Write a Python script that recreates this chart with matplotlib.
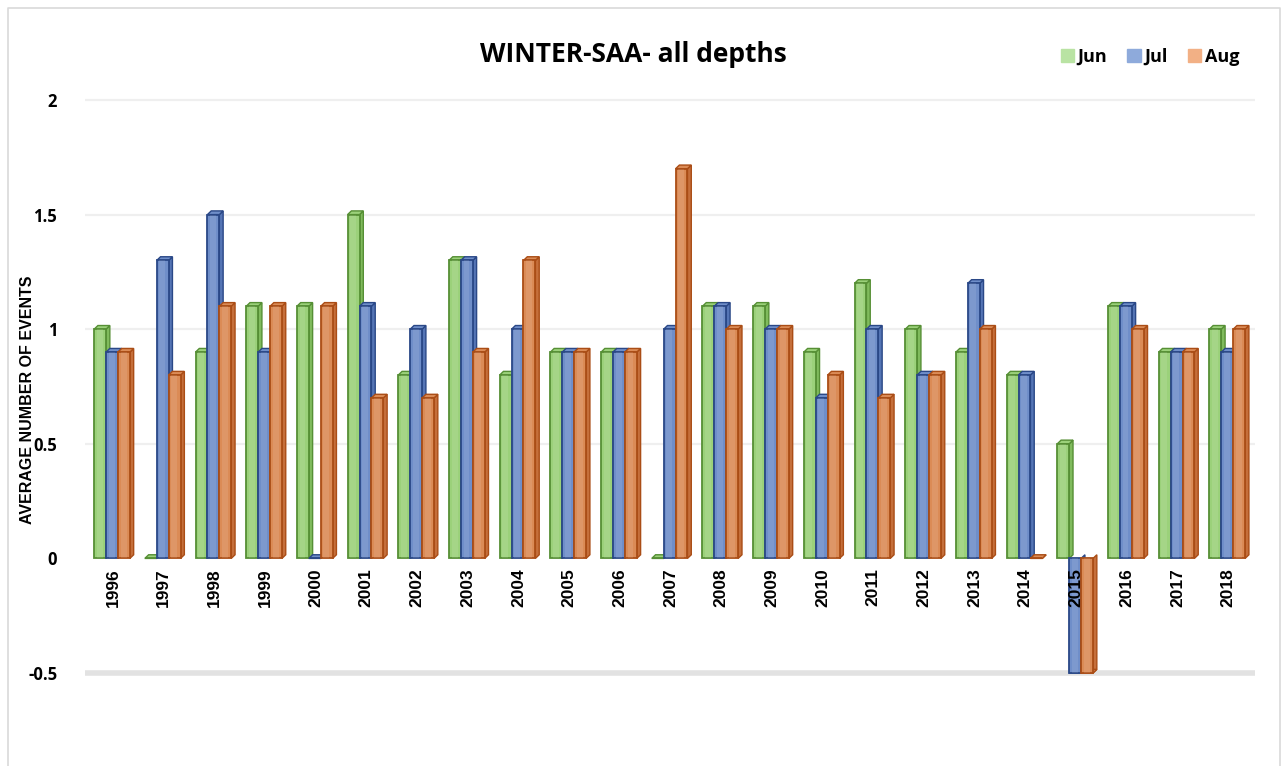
import matplotlib
matplotlib.use("Agg")
import matplotlib.pyplot as plt
from matplotlib.patches import Rectangle, Polygon, Patch
from matplotlib.lines import Line2D

# data
years = ["1996", "1997", "1998", "1999", "2000", "2001", "2002", "2003",
         "2004", "2005", "2006", "2007", "2008", "2009", "2010", "2011",
         "2012", "2013", "2014", "2015", "2016", "2017", "2018"]
jun = [1.0, 0.0, 0.9, 1.1, 1.1, 1.5, 0.8, 1.3, 0.8, 0.9, 0.9, 0.0,
       1.1, 1.1, 0.9, 1.2, 1.0, 0.9, 0.8, 0.5, 1.1, 0.9, 1.0]
jul = [0.9, 1.3, 1.5, 0.9, 0.0, 1.1, 1.0, 1.3, 1.0, 0.9, 0.9, 1.0,
       1.1, 1.0, 0.7, 1.0, 0.8, 1.2, 0.8, -0.5, 1.1, 0.9, 0.9]
aug = [0.9, 0.8, 1.1, 1.1, 1.1, 0.7, 0.7, 0.9, 1.3, 0.9, 0.9, 1.7,
       1.0, 1.0, 0.8, 0.7, 0.8, 1.0, 0.0, -0.5, 1.0, 0.9, 1.0]
yticks = [-0.5, 0, 0.5, 1, 1.5, 2]
ytick_labels = ["-0.5", "0", "0.5", "1", "1.5", "2"]

# (name, values, front, edge, side, legend)
series = [
    ("Jun", jun, "#9bd17a", "#568f35", "#80bb5d", "#b9e3a3"),
    ("Jul", jul, "#6f8ec9", "#2a4887", "#5575b5", "#8eaadb"),
    ("Aug", aug, "#db8b56", "#aa4d16", "#c56f3b", "#f2b085"),
]

W, H = 1285, 766
fig = plt.figure(figsize=(W / 100, H / 100), dpi=100)
ax = fig.add_axes([85 / W, 1 - 684.5 / H, 1170 / W, (684.5 - 88.5) / H])
ax.set_xlim(-0.55, 22.53)
ax.set_ylim(-0.55, 2.05)

# faint 3d-ish gridlines
for yv in yticks:
    if yv == 0:
        continue
    if yv == -0.5:
        ax.axhline(yv, color="#e2e2e2", lw=4, zorder=0)
    else:
        ax.axhline(yv, color="#efefef", lw=1.6, zorder=0)

bw = 0.235     # front face width
dx = 0.075     # depth in x (data units)
dy = 0.016     # depth in y (data units)
offsets = [-0.37, -0.135, 0.10]

for i in range(len(years)):
    for k, (name, vals, fc, ec, sc, _) in enumerate(series):
        v = vals[i]
        x0 = i + offsets[k]
        z = 2 + i * 3 + k
        # side face
        ax.add_patch(Polygon([(x0 + bw, 0), (x0 + bw + dx, dy),
                              (x0 + bw + dx, v + dy), (x0 + bw, v)],
                             closed=True, fc=sc, ec=ec, lw=1.0, zorder=z))
        # top face
        ax.add_patch(Polygon([(x0, v), (x0 + dx, v + dy),
                              (x0 + bw + dx, v + dy), (x0 + bw, v)],
                             closed=True, fc=fc, ec=ec, lw=1.0, zorder=z))
        # front face
        ax.add_patch(Rectangle((x0, min(0, v)), bw, abs(v),
                               fc=fc, ec=ec, lw=1.3, zorder=z))
        # light highlight stripe on the front
        ax.add_patch(Rectangle((x0 + bw * 0.22, min(0, v)), bw * 0.5, abs(v),
                               fc="white", alpha=0.10, lw=0, zorder=z))

for s in ax.spines.values():
    s.set_visible(False)
ax.set_xticks([])
ax.set_yticks(yticks)
ax.set_yticklabels(ytick_labels, fontsize=12, fontweight="bold",
                   family="Open Sans")
ax.tick_params(axis="y", length=0, pad=20)

for i, yr in enumerate(years):
    ax.annotate(yr, xy=(i, 0), xytext=(0, -7), textcoords="offset points",
                rotation=90, ha="center", va="top", fontsize=12.5,
                fontweight="bold", family=["Liberation Sans Narrow", "Liberation Sans"],
                zorder=200)

fig.text(28 / W, 1 - 400 / H, "AVERAGE NUMBER OF EVENTS", rotation=90,
         ha="center", va="center", fontsize=11.5, fontweight="bold",
         family=["Liberation Sans Narrow", "Liberation Sans"])

fig.text(633 / W, 1 - 55 / H, "WINTER-SAA- all depths", ha="center",
         va="center", fontsize=19, fontweight="bold", family="Open Sans")

handles = [Patch(fc=s[5], ec=s[5]) for s in series]
leg = fig.legend(handles, [s[0] for s in series], loc="center",
                 bbox_to_anchor=(1150 / W, 1 - 57 / H), ncol=3, frameon=False,
                 handlelength=0.75, handleheight=0.75, handletextpad=0.2,
                 columnspacing=1.1, prop={"family": "Open Sans", "weight": "bold", "size": 13})

# light frame around the chart area
fig.add_artist(Line2D([8 / W, 8 / W, 1280 / W, 1280 / W],
                      [0, 1 - 8 / H, 1 - 8 / H, 0],
                      transform=fig.transFigure, color="#d9d9d9", lw=1.2))

fig.savefig("out.png", dpi=100)
